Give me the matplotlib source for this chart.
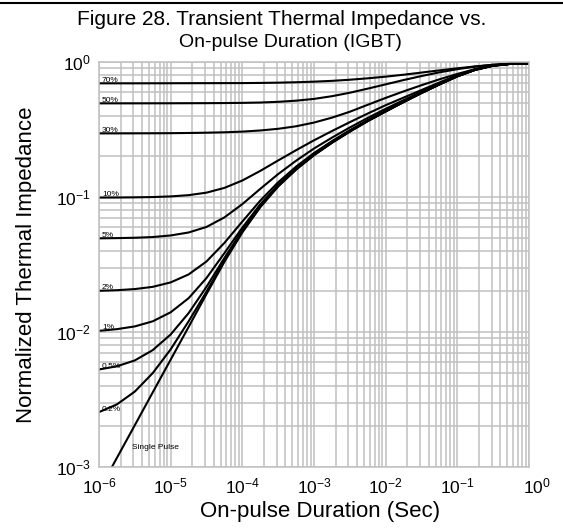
import matplotlib
matplotlib.use("Agg")
import matplotlib.pyplot as plt
import matplotlib.transforms as mtransforms

plt.rcParams['font.family'] = ['Liberation Sans', 'DejaVu Sans']
plt.rcParams['mathtext.fontset'] = 'custom'
plt.rcParams['mathtext.rm'] = 'Liberation Sans'
plt.rcParams['mathtext.it'] = 'Liberation Sans'
plt.rcParams['mathtext.default'] = 'regular'

# ---- data (quarter-decade steps) ----
t = [1e-6, 1.78e-6, 3.16e-6, 5.62e-6,
     1e-5, 1.78e-5, 3.16e-5, 5.62e-5,
     1e-4, 1.78e-4, 3.16e-4, 5.62e-4,
     1e-3, 1.78e-3, 3.16e-3, 5.62e-3,
     1e-2, 1.78e-2, 3.16e-2, 5.62e-2,
     1e-1, 1.78e-1, 3.16e-1, 5.62e-1,
     1.0]

z_70 = [0.695, 0.695, 0.695, 0.6955, 0.696, 0.6965, 0.697, 0.6975, 0.698, 0.700,
        0.703, 0.708, 0.715, 0.725, 0.739, 0.757, 0.779, 0.805, 0.835, 0.867,
        0.898, 0.927, 0.953, 0.972, 0.979]
z_50 = [0.494, 0.494, 0.494, 0.4943, 0.4946, 0.495, 0.4955, 0.4965, 0.498, 0.501,
        0.507, 0.517, 0.533, 0.558, 0.592, 0.635, 0.683, 0.735, 0.787, 0.838,
        0.885, 0.925, 0.955, 0.973, 0.979]
z_30 = [0.296, 0.296, 0.2962, 0.2965, 0.297, 0.298, 0.2995, 0.3015, 0.305, 0.311,
        0.320, 0.334, 0.356, 0.387, 0.428, 0.482, 0.542, 0.606, 0.673, 0.744,
        0.816, 0.886, 0.941, 0.970, 0.979]
z_10 = [0.0990, 0.0991, 0.0994, 0.0999, 0.1010, 0.1032, 0.1077, 0.1168, 0.1325, 0.1561,
        0.1865, 0.2221, 0.2630, 0.3080, 0.3584, 0.4152, 0.4787, 0.545, 0.620, 0.705,
        0.800, 0.885, 0.943, 0.971, 0.979]
z_5 = [0.0494, 0.0496, 0.0499, 0.0505, 0.0519, 0.0546, 0.0600, 0.0706, 0.0886, 0.1149,
       0.1478, 0.1856, 0.2286, 0.2753, 0.3272, 0.3852, 0.4501, 0.522, 0.603, 0.692,
       0.790, 0.879, 0.941, 0.970, 0.979]
z_2 = [0.0202, 0.0204, 0.0208, 0.0216, 0.0233, 0.0267, 0.0333, 0.0457, 0.0658, 0.0940,
       0.1285, 0.1678, 0.2118, 0.2595, 0.3124, 0.3711, 0.4366, 0.511, 0.594, 0.686,
       0.786, 0.877, 0.940, 0.970, 0.979]
z_1 = [0.0102, 0.0105, 0.0110, 0.0120, 0.0140, 0.0178, 0.0251, 0.0384, 0.0593, 0.0882,
       0.1233, 0.1629, 0.2073, 0.2553, 0.3083, 0.3674, 0.4329, 0.508, 0.592, 0.684,
       0.785, 0.876, 0.940, 0.970, 0.979]
z_05 = [0.00528, 0.00557, 0.00616, 0.00734, 0.00959, 0.0138, 0.0216, 0.0353, 0.0566, 0.0858,
        0.1212, 0.1609, 0.2055, 0.2536, 0.3067, 0.3659, 0.4315, 0.506, 0.590, 0.683,
        0.784, 0.876, 0.940, 0.970, 0.979]
z_02 = [0.00255, 0.00291, 0.00362, 0.00496, 0.00744, 0.0120, 0.0199, 0.0339, 0.0553, 0.0847,
        0.1202, 0.1601, 0.2046, 0.2524, 0.3053, 0.3653, 0.4303, 0.505, 0.589, 0.682,
        0.783, 0.875, 0.940, 0.970, 0.979]
z_sp = [0.000668, 0.00117, 0.00204, 0.00357, 0.00624, 0.0109, 0.0191, 0.0331, 0.0547, 0.0841,
        0.1197, 0.1596, 0.2040, 0.2520, 0.3050, 0.3650, 0.4300, 0.505, 0.589, 0.682,
        0.783, 0.875, 0.940, 0.970, 0.979]

curves = [z_70, z_50, z_30, z_10, z_5, z_2, z_1, z_05, z_02, z_sp]
duty_labels = ["70%", "50%", "30%", "10%", "5%", "2%", "1%", "0.5%", "0.2%"]
single_label = "Single Pulse"

x_ticks = [1e-6, 1e-5, 1e-4, 1e-3, 1e-2, 1e-1, 1e0]
x_ticklabels = ["$10^{-6}$", "$10^{-5}$", "$10^{-4}$", "$10^{-3}$", "$10^{-2}$", "$10^{-1}$", "$10^{0}$"]
y_ticks = [1e-3, 1e-2, 1e-1, 1e0]
y_ticklabels = ["$10^{-3}$", "$10^{-2}$", "$10^{-1}$", "$10^{0}$"]

# ---- figure ----
W, H = 563, 528
fig = plt.figure(figsize=(W/100, H/100), dpi=100)
ax = fig.add_axes([99/W, 1-467/H, 430/W, 405/H])

ax.set_xscale('log')
ax.set_yscale('log')
ax.set_xlim(1e-6, 1)
ax.set_ylim(1e-3, 1)

grid_c = '#c0c0c0'
ax.grid(True, which='both', color=grid_c, linewidth=1.1)
ax.set_axisbelow(True)
for s in ax.spines.values():
    s.set_color(grid_c)
    s.set_linewidth(1.1)

for z in curves:
    ax.plot(t, z, color='black', linewidth=1.5, solid_joinstyle='round')

for lab, z in zip(duty_labels, curves[:-1]):
    ax.text(1.1e-6, z[0] * 1.025, lab, fontsize=6, ha='left', va='baseline', color='black')
ax.text(2.9e-6, 1.37e-3, single_label, fontsize=6, ha='left', va='baseline', color='black')

ax.set_xticks(x_ticks)
ax.set_xticklabels(x_ticklabels)
ax.set_yticks(y_ticks)
ax.set_yticklabels(y_ticklabels)
ax.tick_params(which='both', length=0)
ax.tick_params(axis='x', labelsize=12.5, pad=7)
ax.tick_params(axis='y', labelsize=12.5, pad=6)

# last x tick label sits a little to the right in the reference
lbl = ax.get_xticklabels()[-1]
lbl.set_transform(lbl.get_transform() + mtransforms.ScaledTranslation(8/100, 0, fig.dpi_scale_trans))

ax.set_xlabel("On-pulse Duration (Sec)", fontsize=16)
ax.xaxis.label.set_va('baseline')
ax.xaxis.set_label_coords((320-99)/430, (467-516.5)/405)
ax.set_ylabel("Normalized Thermal Impedance", fontsize=16)
ax.yaxis.set_label_coords((37-99)/430, 0.5)

fig.text(281.5/W, 1-25/H, "Figure 28. Transient Thermal Impedance vs.", fontsize=15, ha='center', va='baseline')
fig.text(290/W, 1-46.5/H, "On-pulse Duration (IGBT)", fontsize=14, ha='center', va='baseline')

fig.add_artist(plt.Line2D([0, 1], [1-3/H, 1-3/H], color='black', linewidth=1.5, transform=fig.transFigure))

fig.savefig("out.png", dpi=100)
